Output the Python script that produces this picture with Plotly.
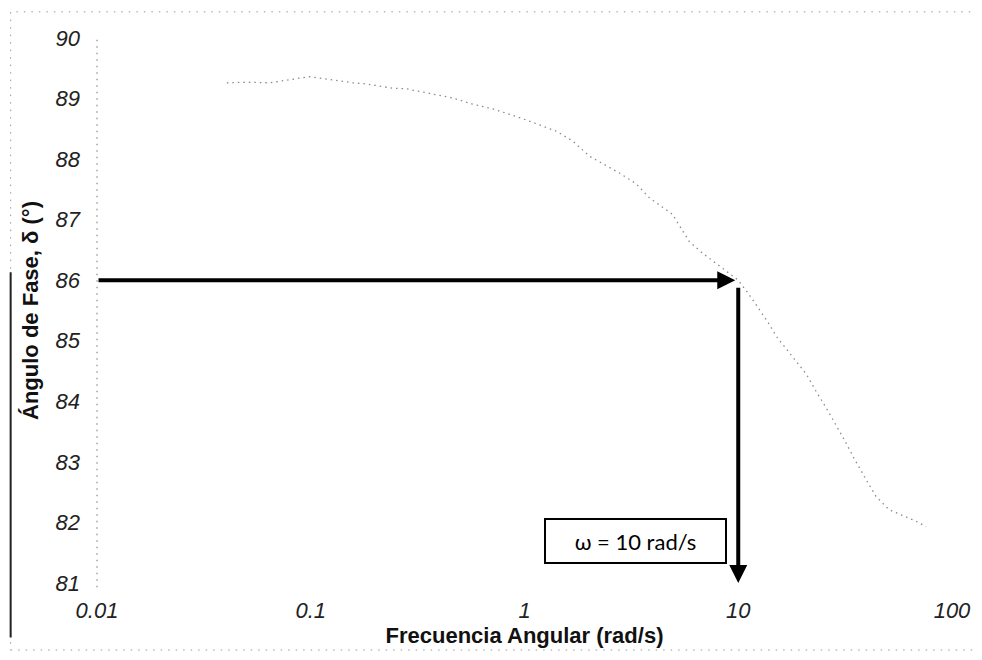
import numpy as np
import plotly.graph_objects as go

# ---- data ----
freq = [0.0405, 0.050, 0.064, 0.098, 0.126, 0.157, 0.183, 0.242, 0.281, 0.358,
        0.46, 0.57, 0.71, 0.85, 1.05, 1.41, 1.68, 2.01, 2.78, 3.34, 3.84, 4.92,
        5.42, 5.90, 6.79, 7.89, 9.08, 10.0, 11.2, 13.7, 15.1, 17.9, 20.8, 23.1,
        26.0, 31.3, 34.8, 39.6, 44.1, 50.8, 67.9, 75.7]
phase = [89.26, 89.27, 89.26, 89.36, 89.31, 89.26, 89.24, 89.17, 89.16, 89.09,
         89.01, 88.91, 88.83, 88.74, 88.63, 88.46, 88.30, 88.05, 87.77, 87.59,
         87.36, 87.09, 86.86, 86.64, 86.45, 86.28, 86.12, 86.0, 85.77, 85.32,
         85.07, 84.74, 84.45, 84.17, 83.87, 83.37, 83.06, 82.71, 82.43, 82.21,
         82.02, 81.93]

x_tickvals = [0.01, 0.1, 1, 10, 100]
x_ticktext = ["0.01", "0.1", "1", "10", "100"]
y_tickvals = [81, 82, 83, 84, 85, 86, 87, 88, 89, 90]

omega_marked = 10
phase_marked = 86
x_min, x_max = 0.01, 100
y_min, y_max = 81, 90
label_text = "ω = 10 rad/s"
label_freq = 3.3
label_phase = 81.7

fig = go.Figure()
fig.add_trace(go.Scatter(
    x=freq, y=phase, mode="lines",
    line=dict(color="#8a8a8a", width=1.3, dash="1.5px,4px"),
    showlegend=False, hoverinfo="skip"))

tickfont = dict(family="Liberation Sans, Arial", size=22, color="#222",
                style="italic")
titlefont = dict(family="Liberation Sans, Arial", size=22, color="#111",
                 weight="bold")

fig.update_xaxes(
    type="log", range=[np.log10(x_min), np.log10(x_max)],
    tickvals=x_tickvals, ticktext=x_ticktext, tickfont=tickfont,
    showgrid=False, zeroline=False, showline=False, ticks="",
    ticklabelstandoff=12, automargin=False,
    title=dict(text="Frecuencia Angular (rad/s)", font=titlefont, standoff=2))
fig.update_yaxes(
    range=[y_min, y_max], tickvals=y_tickvals, tickfont=tickfont,
    showgrid=False, zeroline=False, showline=False, ticks="",
    ticklabelstandoff=16, automargin=False,
    title=dict(text="Ángulo de Fase, δ (°)", font=titlefont, standoff=10))

annotations = [
    # horizontal arrow from the y-axis to the marked point
    dict(x=np.log10(omega_marked), y=phase_marked,
         ax=np.log10(x_min), ay=phase_marked,
         xref="x", yref="y", axref="x", ayref="y",
         text="", showarrow=True, arrowhead=2, arrowsize=0.9,
         arrowwidth=4, arrowcolor="black", standoff=3),
    # vertical arrow from the marked point down to the x-axis
    dict(x=np.log10(omega_marked), y=y_min,
         ax=np.log10(omega_marked), ay=phase_marked,
         xref="x", yref="y", axref="x", ayref="y",
         text="", showarrow=True, arrowhead=2, arrowsize=0.9,
         arrowwidth=4, arrowcolor="black", startstandoff=6, standoff=0),
    # label box
    dict(x=np.log10(label_freq), y=label_phase, xref="x", yref="y",
         text=label_text, showarrow=False,
         font=dict(family="Lato, Open Sans", size=22, color="black"),
         bordercolor="black", borderwidth=2, borderpad=2,
         bgcolor="white", width=175, height=38, align="center"),
]

shapes = [
    # dotted y-axis line
    dict(type="line", xref="paper", yref="paper", x0=0, x1=0, y0=-0.008, y1=1,
         line=dict(color="#8a8a8a", width=1.2, dash="1.5px,5px")),
    # dotted scan border
    dict(type="rect", xref="paper", yref="paper",
         x0=-0.101, x1=1.03, y0=-0.123, y1=1.048,
         line=dict(color="#9a9a9a", width=1, dash="1.5px,6px")),
    # darker left border segment
    dict(type="line", xref="paper", yref="paper",
         x0=-0.101, x1=-0.101, y0=-0.10, y1=0.57,
         line=dict(color="#222", width=2)),
]

fig.update_layout(
    width=974, height=652,
    margin=dict(l=89, r=30, t=30, b=77),
    paper_bgcolor="white", plot_bgcolor="white",
    annotations=annotations, shapes=shapes,
    showlegend=False)

fig.write_html("out.html")
